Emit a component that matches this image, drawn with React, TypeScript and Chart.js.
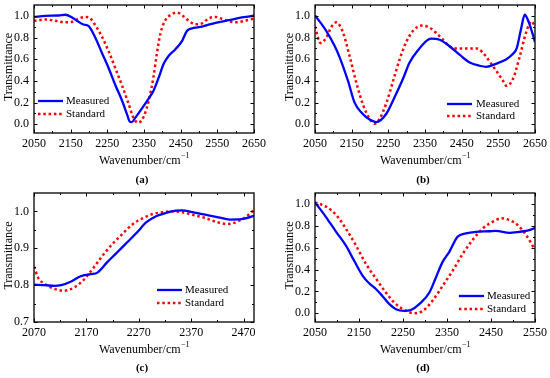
import React, { useEffect, useRef } from "react";
import { Chart, registerables } from "chart.js";

Chart.register(...registerables);

// ---------- Panel (a) ----------
const aMeasuredWave = [2050, 2081, 2117, 2135, 2154, 2167, 2185, 2199, 2217, 2235, 2254, 2272, 2290, 2304, 2311, 2317, 2326, 2345, 2363, 2376, 2390, 2404, 2417, 2435, 2454, 2467, 2481, 2499, 2517, 2545, 2581, 2617, 2645, 2650];
const aMeasured = [0.99, 1.0, 1.003, 1.01, 0.985, 0.955, 0.92, 0.905, 0.8, 0.66, 0.515, 0.36, 0.22, 0.09, 0.025, 0.02, 0.06, 0.15, 0.24, 0.31, 0.43, 0.56, 0.63, 0.69, 0.77, 0.86, 0.885, 0.895, 0.91, 0.935, 0.96, 0.985, 1.0, 1.005];
const aStandardWave = [2050, 2081, 2108, 2135, 2154, 2172, 2190, 2204, 2217, 2235, 2254, 2272, 2290, 2308, 2322, 2335, 2349, 2363, 2376, 2385, 2395, 2408, 2426, 2440, 2454, 2472, 2490, 2508, 2526, 2545, 2563, 2581, 2599, 2626, 2650];
const aStandard = [0.955, 0.966, 0.955, 0.94, 0.945, 0.975, 0.99, 0.975, 0.914, 0.81, 0.67, 0.515, 0.36, 0.19, 0.055, 0.015, 0.07, 0.22, 0.44, 0.65, 0.84, 0.96, 1.015, 1.03, 1.006, 0.954, 0.923, 0.93, 0.975, 0.99, 0.972, 0.95, 0.94, 0.955, 0.975];

// ---------- Panel (b) ----------
const bMeasuredWave = [2050, 2081, 2104, 2117, 2140, 2158, 2179, 2199, 2217, 2245, 2267, 2290, 2308, 2335, 2354, 2367, 2390, 2417, 2445, 2472, 2499, 2517, 2545, 2572, 2590, 2600, 2612, 2622, 2632, 2642, 2650];
const bMeasured = [1.005, 0.86, 0.72, 0.62, 0.4, 0.2, 0.1, 0.045, 0.02, 0.1, 0.25, 0.42, 0.57, 0.7, 0.77, 0.79, 0.78, 0.72, 0.64, 0.57, 0.54, 0.53, 0.56, 0.6, 0.65, 0.7, 0.88, 1.01, 0.95, 0.85, 0.76];
const bStandardWave = [2050, 2065, 2081, 2095, 2108, 2126, 2145, 2163, 2181, 2199, 2213, 2226, 2245, 2263, 2281, 2299, 2317, 2340, 2363, 2381, 2399, 2417, 2435, 2454, 2472, 2490, 2508, 2526, 2545, 2563, 2572, 2590, 2608, 2626, 2640, 2650];
const bStandard = [0.9, 0.75, 0.8, 0.9, 0.94, 0.85, 0.62, 0.38, 0.18, 0.05, 0.005, 0.05, 0.2, 0.4, 0.6, 0.76, 0.86, 0.91, 0.89, 0.84, 0.78, 0.72, 0.7, 0.7, 0.7, 0.7, 0.66, 0.58, 0.49, 0.4, 0.355, 0.42, 0.62, 0.85, 0.95, 0.9];

// ---------- Panel (c) ----------
const cMeasuredWave = [2070, 2091, 2109, 2122, 2141, 2159, 2178, 2191, 2209, 2228, 2247, 2266, 2284, 2303, 2322, 2341, 2353, 2372, 2397, 2422, 2444, 2466, 2488, 2490];
const cMeasured = [0.801, 0.8, 0.798, 0.8, 0.81, 0.824, 0.83, 0.834, 0.861, 0.888, 0.915, 0.942, 0.97, 0.987, 0.996, 1.002, 1.003, 0.998, 0.991, 0.984, 0.978, 0.979, 0.987, 0.988];
const cStandardWave = [2070, 2078, 2091, 2109, 2128, 2147, 2166, 2184, 2203, 2222, 2241, 2259, 2278, 2297, 2316, 2334, 2353, 2372, 2397, 2422, 2441, 2459, 2478, 2490];
const cStandard = [0.85, 0.82, 0.803, 0.79, 0.785, 0.794, 0.816, 0.848, 0.884, 0.915, 0.942, 0.966, 0.982, 0.993, 0.998, 1.0, 0.998, 0.991, 0.982, 0.97, 0.966, 0.973, 0.989, 1.004];

// ---------- Panel (d) ----------
const dMeasuredWave = [2050, 2075, 2098, 2120, 2139, 2158, 2173, 2189, 2204, 2219, 2234, 2253, 2268, 2287, 2310, 2325, 2340, 2355, 2374, 2393, 2416, 2446, 2461, 2492, 2514, 2537, 2550];
const dMeasured = [1.015, 0.88, 0.745, 0.62, 0.48, 0.345, 0.274, 0.22, 0.154, 0.083, 0.037, 0.022, 0.03, 0.083, 0.19, 0.33, 0.47, 0.56, 0.7, 0.73, 0.745, 0.75, 0.754, 0.735, 0.745, 0.76, 0.78];
const dStandardWave = [2050, 2075, 2098, 2120, 2143, 2166, 2189, 2211, 2234, 2257, 2276, 2295, 2317, 2340, 2363, 2386, 2408, 2431, 2454, 2473, 2492, 2511, 2530, 2550];
const dStandard = [1.015, 0.975, 0.9, 0.775, 0.62, 0.45, 0.314, 0.19, 0.083, 0.022, 0.0, 0.022, 0.114, 0.25, 0.39, 0.545, 0.67, 0.775, 0.837, 0.868, 0.852, 0.806, 0.714, 0.58];

// ---------- Tick labels ----------
const xTicksAB = [2050, 2150, 2250, 2350, 2450, 2550, 2650];
const xTicksC = [2070, 2170, 2270, 2370, 2470];
const xTicksD = [2050, 2150, 2250, 2350, 2450, 2550];
const yTicksABD = [0.0, 0.2, 0.4, 0.6, 0.8, 1.0];
const yTicksC = [0.7, 0.8, 0.9, 1.0];

const seriesNames = ["Measured", "Standard"];
const captions = ["(a)", "(b)", "(c)", "(d)"];

const SERIF = '"Liberation Serif", "Times New Roman", Times, serif';
const W = 275;
const H = 189;

type Panel = {
  caption: string;
  left: number;
  top: number;
  area: { left: number; right: number; top: number; bottom: number };
  xMin: number; xMax: number; xTicks: number[];
  yMin: number; yMax: number; yTicks: number[];
  mx: number[]; my: number[]; sx: number[]; sy: number[];
  legend: { x0: number; x1: number; tx: number; y0: number; y1: number };
};

const panels: Panel[] = [
  {
    caption: captions[0], left: 0, top: 0,
    area: { left: 34, right: 254, top: 5, bottom: 133 },
    xMin: 2050, xMax: 2650, xTicks: xTicksAB,
    yMin: -0.08, yMax: 1.1, yTicks: yTicksABD,
    mx: aMeasuredWave, my: aMeasured, sx: aStandardWave, sy: aStandard,
    legend: { x0: 38, x1: 63, tx: 66, y0: 101, y1: 114 },
  },
  {
    caption: captions[1], left: 275, top: 0,
    area: { left: 40, right: 260, top: 5, bottom: 133 },
    xMin: 2050, xMax: 2650, xTicks: xTicksAB,
    yMin: -0.08, yMax: 1.1, yTicks: yTicksABD,
    mx: bMeasuredWave, my: bMeasured, sx: bStandardWave, sy: bStandard,
    legend: { x0: 172, x1: 197, tx: 201, y0: 104, y1: 116 },
  },
  {
    caption: captions[2], left: 0, top: 189,
    area: { left: 34, right: 254, top: 4, bottom: 133 },
    xMin: 2070, xMax: 2490, xTicks: xTicksC,
    yMin: 0.7, yMax: 1.05, yTicks: yTicksC,
    mx: cMeasuredWave, my: cMeasured, sx: cStandardWave, sy: cStandard,
    legend: { x0: 157, x1: 182, tx: 185, y0: 101, y1: 114 },
  },
  {
    caption: captions[3], left: 275, top: 189,
    area: { left: 40, right: 260, top: 4, bottom: 133 },
    xMin: 2050, xMax: 2550, xTicks: xTicksD,
    yMin: -0.08, yMax: 1.1, yTicks: yTicksABD,
    mx: dMeasuredWave, my: dMeasured, sx: dStandardWave, sy: dStandard,
    legend: { x0: 184, x1: 209, tx: 212, y0: 107, y1: 120 },
  },
];

function minorValues(ticks: number[], min: number, max: number): number[] {
  const step = ticks[1] - ticks[0];
  const out: number[] = [];
  const eps = step * 1e-3;
  for (let v = ticks[0] - step / 2; v > min + eps; v -= step) out.push(v);
  for (let v = ticks[0] + step / 2; v < max - eps; v += step) out.push(v);
  return out;
}

function framePlugin(p: Panel) {
  return {
    id: "frame",
    afterDraw(chart: any) {
      const { ctx, chartArea: a } = chart;
      const xs = chart.scales.x;
      const ys = chart.scales.y;
      ctx.save();
      // box
      ctx.strokeStyle = "#000";
      ctx.lineWidth = 1.3;
      ctx.setLineDash([]);
      ctx.strokeRect(a.left, a.top, a.right - a.left, a.bottom - a.top);
      // inward ticks
      ctx.lineWidth = 1;
      const drawX = (v: number, len: number) => {
        const px = Math.round(xs.getPixelForValue(v)) + 0.5;
        ctx.beginPath();
        ctx.moveTo(px, a.bottom); ctx.lineTo(px, a.bottom - len);
        ctx.moveTo(px, a.top); ctx.lineTo(px, a.top + len);
        ctx.stroke();
      };
      const drawY = (v: number, len: number) => {
        const py = Math.round(ys.getPixelForValue(v)) + 0.5;
        ctx.beginPath();
        ctx.moveTo(a.left, py); ctx.lineTo(a.left + len, py);
        ctx.moveTo(a.right, py); ctx.lineTo(a.right - len, py);
        ctx.stroke();
      };
      p.xTicks.forEach((v) => drawX(v, 3.5));
      minorValues(p.xTicks, p.xMin, p.xMax).forEach((v) => drawX(v, 2));
      p.yTicks.forEach((v) => drawY(v, 3.5));
      minorValues(p.yTicks, p.yMin, p.yMax).forEach((v) => drawY(v, 2));

      // legend
      chart.data.datasets.forEach((ds: any, i: number) => {
        const y = i === 0 ? p.legend.y0 : p.legend.y1;
        ctx.strokeStyle = ds.borderColor;
        ctx.lineWidth = ds.borderWidth;
        ctx.setLineDash(ds.borderDash || []);
        ctx.beginPath();
        ctx.moveTo(p.legend.x0, y);
        ctx.lineTo(p.legend.x1, y);
        ctx.stroke();
        ctx.setLineDash([]);
        ctx.fillStyle = "#000";
        ctx.font = `11px ${SERIF}`;
        ctx.textAlign = "left";
        ctx.textBaseline = "middle";
        ctx.fillText(ds.label, p.legend.tx, y + 0.5);
      });

      // x-axis title with superscript
      const cx = (a.left + a.right) / 2;
      const ty = 161;
      ctx.fillStyle = "#000";
      ctx.textBaseline = "middle";
      ctx.font = `12px ${SERIF}`;
      const main = "Wavenumber/cm";
      const w1 = ctx.measureText(main).width;
      ctx.font = `8px ${SERIF}`;
      const sup = "\u22121";
      const w2 = ctx.measureText(sup).width;
      const sx0 = cx - (w1 + w2) / 2;
      ctx.font = `12px ${SERIF}`;
      ctx.textAlign = "left";
      ctx.fillText(main, sx0, ty);
      ctx.font = `8px ${SERIF}`;
      ctx.fillText(sup, sx0 + w1 + 0.5, ty - 5);

      // y-axis title
      ctx.save();
      ctx.translate(a.left - 25, (a.top + a.bottom) / 2 - 2);
      ctx.rotate(-Math.PI / 2);
      ctx.font = `12px ${SERIF}`;
      ctx.textAlign = "center";
      ctx.textBaseline = "middle";
      ctx.fillText("Transmittance", 0, 0);
      ctx.restore();

      // caption
      ctx.font = `bold 11px ${SERIF}`;
      ctx.textAlign = "center";
      ctx.textBaseline = "middle";
      ctx.fillText(p.caption, cx - 2, p.top === 0 ? 180 : 179);
      ctx.restore();
    },
  };
}

function PanelChart({ p }: { p: Panel }) {
  const ref = useRef<HTMLCanvasElement | null>(null);
  useEffect(() => {
    if (!ref.current) return;
    const tickFont = { family: SERIF, size: 12 };
    const chart = new Chart(ref.current, {
      type: "line",
      data: {
        datasets: [
          {
            label: seriesNames[0],
            data: p.mx.map((x, i) => ({ x, y: p.my[i] })),
            borderColor: "#0000ff",
            borderWidth: 2.3,
            pointRadius: 0,
            fill: false,
            cubicInterpolationMode: "monotone",
          },
          {
            label: seriesNames[1],
            data: p.sx.map((x, i) => ({ x, y: p.sy[i] })),
            borderColor: "#ff0000",
            borderWidth: 2.5,
            borderDash: [2.5, 2.8],
            borderCapStyle: "butt",
            pointRadius: 0,
            fill: false,
            cubicInterpolationMode: "monotone",
          },
        ],
      } as any,
      options: {
        responsive: false,
        maintainAspectRatio: false,
        animation: false,
        events: [],
        layout: { padding: { left: 0, right: W - p.area.right, top: p.area.top, bottom: 0 } },
        plugins: { legend: { display: false }, tooltip: { enabled: false }, title: { display: false } },
        scales: {
          x: {
            type: "linear",
            min: p.xMin,
            max: p.xMax,
            grid: { display: false, drawTicks: false },
            border: { display: false },
            afterBuildTicks: (s: any) => {
              s.ticks = p.xTicks.map((v) => ({ value: v }));
            },
            afterFit: (s: any) => {
              s.height = H - p.area.bottom;
              s.paddingLeft = 0;
              s.paddingRight = 0;
            },
            ticks: {
              color: "#000",
              font: tickFont,
              padding: 4,
              maxRotation: 0,
              autoSkip: false,
              callback: (v: any) => String(v),
            },
          },
          y: {
            type: "linear",
            min: p.yMin,
            max: p.yMax,
            grid: { display: false, drawTicks: false },
            border: { display: false },
            afterBuildTicks: (s: any) => {
              s.ticks = p.yTicks.map((v) => ({ value: v }));
            },
            afterFit: (s: any) => {
              s.width = p.area.left;
              s.paddingTop = 0;
              s.paddingBottom = 0;
            },
            ticks: {
              color: "#000",
              font: tickFont,
              padding: 5,
              autoSkip: false,
              callback: (v: any) => Number(v).toFixed(1),
            },
          },
        },
      } as any,
      plugins: [framePlugin(p)],
    });
    return () => chart.destroy();
  }, [p]);
  return (
    <div style={{ position: "absolute", left: p.left, top: p.top, width: W, height: H }}>
      <canvas ref={ref} width={W} height={H} style={{ width: W, height: H, display: "block" }} />
    </div>
  );
}

export default function App() {
  return (
    <div style={{ position: "absolute", left: 0, top: 0, width: 550, height: 378, background: "#fff" }}>
      {panels.map((p) => (
        <PanelChart key={p.caption} p={p} />
      ))}
    </div>
  );
}
